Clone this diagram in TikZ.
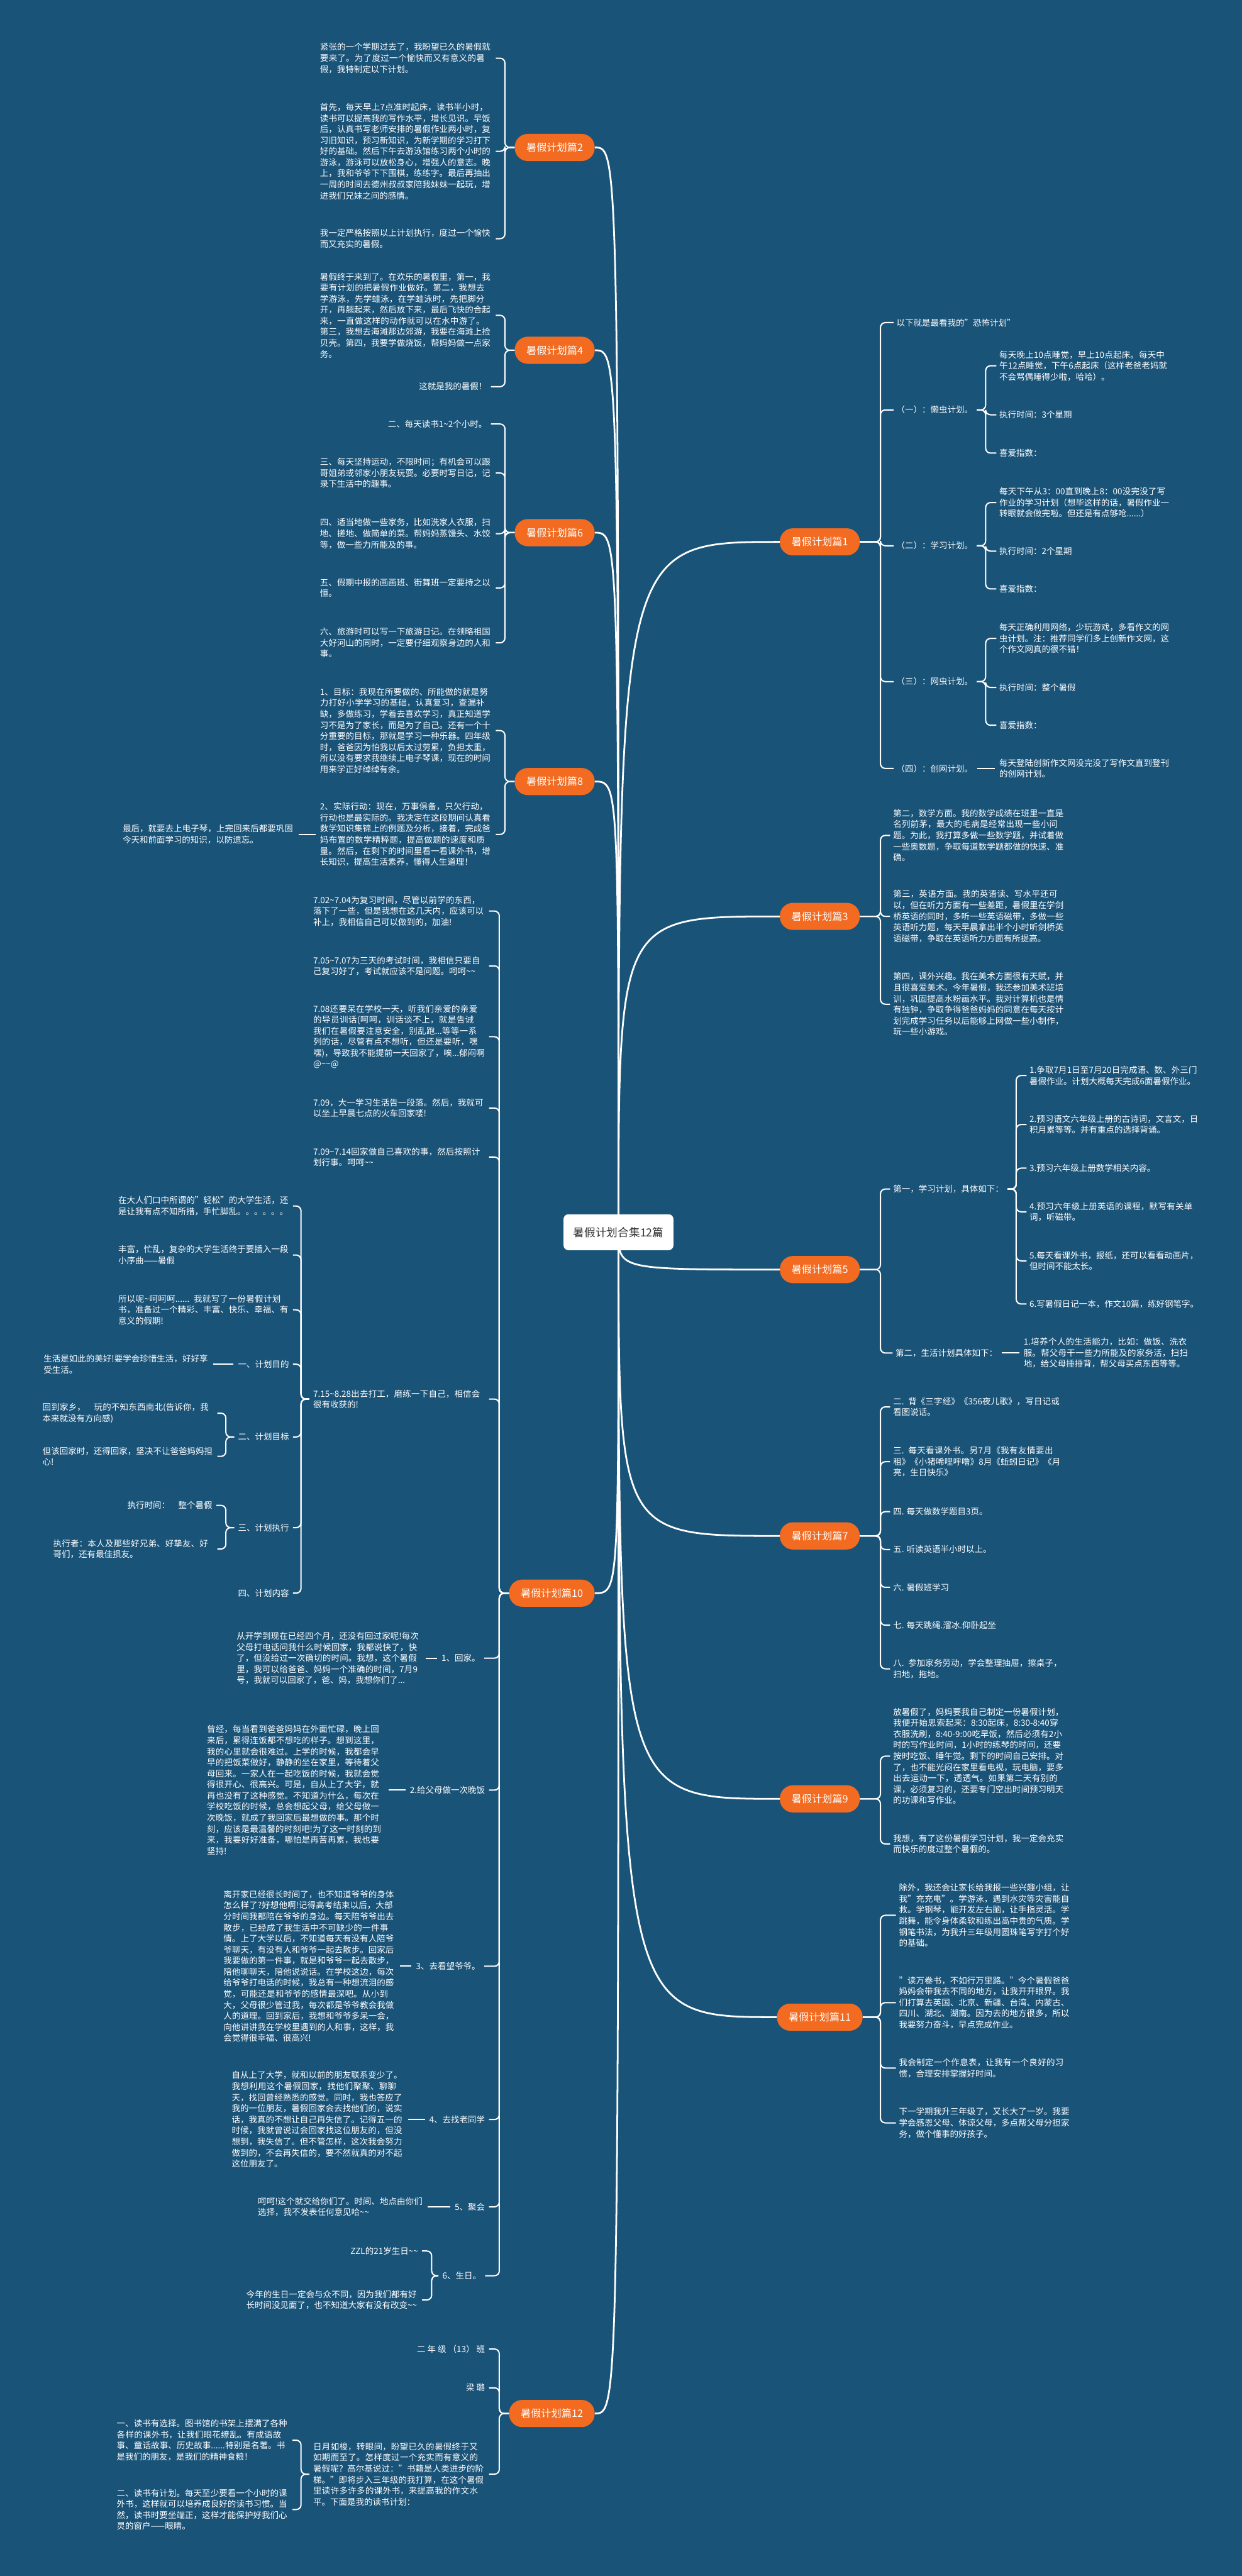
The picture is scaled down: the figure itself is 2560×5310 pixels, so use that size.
\documentclass[tikz,border=0pt]{standalone}
\usepackage{fontspec}
\setmainfont{Noto Sans CJK SC}
\XeTeXlinebreaklocale "zh"
\XeTeXlinebreakskip = 0pt plus 1pt
\usetikzlibrary{backgrounds}
\definecolor{mapbg}{HTML}{1A5378}
\definecolor{topicorange}{HTML}{F26B21}
\definecolor{rootink}{HTML}{333333}
\newcommand\wave{\textasciitilde}
\tikzset{
  leaf/.style={text=white, inner sep=0pt, align=left,
    font=\fontsize{17.5pt}{22.8pt}\selectfont},
  lt/.style={leaf, anchor=east},
  rt/.style={leaf, anchor=west},
  tw/.style={text width=#1pt},
  topic/.style={fill=topicorange, text=white, rounded corners=27pt,
    minimum height=56pt, inner xsep=24pt, inner ysep=0pt,
    font=\fontsize{21pt}{24pt}\selectfont},
  root/.style={fill=white, text=rootink, rounded corners=10pt,
    minimum height=74pt, inner xsep=20pt,
    font=\fontsize{23pt}{26pt}\selectfont},
  link/.style={draw=white, line width=2.6pt, rounded corners=10pt},
  trunk/.style={draw=white, line width=3.6pt},
  stub/.style={draw=white, line width=2.6pt, shorten <=9pt, shorten >=9pt},
}
\begin{document}
\begin{tikzpicture}[x=1pt,y=-1pt]
  \begin{scope}[on background layer]
    \fill[mapbg] (0,0) rectangle (2560,5310);
  \end{scope}
  \useasboundingbox (0,0) rectangle (2560,5310);
  \coordinate (rbus) at (1815,0);

  % root and topics
  \node[root] (ctr) at (1275,2540) {暑假计划合集12篇};
  \node[topic, anchor=east] (t2) at (1226,304) {暑假计划篇2};
  \node[topic, anchor=east] (t4) at (1226,722) {暑假计划篇4};
  \node[topic, anchor=east] (t6) at (1226,1098) {暑假计划篇6};
  \node[topic, anchor=east] (t8) at (1226,1611) {暑假计划篇8};
  \node[topic, anchor=east] (t10) at (1226,3284) {暑假计划篇10};
  \node[topic, anchor=east] (t12) at (1226,4975) {暑假计划篇12};
  \node[topic] (t1) at (1690,1117) {暑假计划篇1};
  \node[topic] (t3) at (1690,1889) {暑假计划篇3};
  \node[topic] (t5) at (1690,2617) {暑假计划篇5};
  \node[topic] (t7) at (1690,3166) {暑假计划篇7};
  \node[topic] (t9) at (1690,3708) {暑假计划篇9};
  \node[topic] (t11) at (1690,4158) {暑假计划篇11};

  % 篇2
  \node[lt, tw=354] (a1) at (1014,120) {紧张的一个学期过去了，我盼望已久的暑假就要来了。为了度过一个愉快而又有意义的暑假，我特制定以下计划。};
  \node[lt, tw=354] (a2) at (1014,312) {首先，每天早上7点准时起床，读书半小时，读书可以提高我的写作水平，增长见识。早饭后，认真书写老师安排的暑假作业两小时，复习旧知识，预习新知识，为新学期的学习打下好的基础。然后下午去游泳馆练习两个小时的游泳，游泳可以放松身心，增强人的意志。晚上，我和爷爷下下围棋，练练字。最后再抽出一周的时间去德州叔叔家陪我妹妹一起玩，增进我们兄妹之间的感情。};
  \node[lt, tw=354] (a3) at (1014,492) {我一定严格按照以上计划执行，度过一个愉快而又充实的暑假。};

  % 篇4
  \node[lt, tw=354] (b1) at (1014,650) {暑假终于来到了。在欢乐的暑假里，第一，我要有计划的把暑假作业做好。第二，我想去学游泳，先学蛙泳，在学蛙泳时，先把脚分开，再翘起来，然后放下来，最后飞快的合起来，一直做这样的动作就可以在水中游了。 第三，我想去海滩那边郊游，我要在海滩上捡贝壳。第四，我要学做烧饭，帮妈妈做一点家务。};
  \node[lt] (b2) at (1004,797) {这就是我的暑假！};

  % 篇6
  \node[lt] (c1) at (1004,874) {二、每天读书1\wave{}2个小时。};
  \node[lt, tw=354] (c2) at (1014,975) {三、每天坚持运动，不限时间；有机会可以跟哥姐弟或邻家小朋友玩耍。必要时写日记，记录下生活中的趣事。};
  \node[lt, tw=354] (c3) at (1014,1100) {四、适当地做一些家务，比如洗家人衣服，扫地、搓地、做简单的菜。帮妈妈蒸馒头、水饺等，做一些力所能及的事。};
  \node[lt, tw=354] (c4) at (1014,1212) {五、假期中报的画画班、街舞班一定要持之以恒。};
  \node[lt, tw=354] (c5) at (1014,1325) {六、旅游时可以写一下旅游日记。在领略祖国大好河山的同时，一定要仔细观察身边的人和事。};

  % 篇8
  \node[lt, tw=354] (d1) at (1014,1506) {1、目标：我现在所要做的、所能做的就是努力打好小学学习的基础，认真复习，查漏补缺，多做练习，学着去喜欢学习，真正知道学习不是为了家长，而是为了自己。还有一个十分重要的目标，那就是学习一种乐器。四年级时，爸爸因为怕我以后太过劳累，负担太重，所以没有要求我继续上电子琴课，现在的时间用来学正好绰绰有余。};
  \node[lt, tw=354] (d2) at (1014,1720) {2、实际行动：现在，万事俱备，只欠行动，行动也是最实际的。我决定在这段期间认真看数学知识集锦上的例题及分析，接着，完成爸妈布置的数学精粹题，提高做题的速度和质量。然后，在剩下的时间里看一看课外书，增长知识，提高生活素养，懂得人生道理！};
  \node[lt, tw=354] (d3) at (607,1720) {最后，就要去上电子琴，上完回来后都要巩固今天和前面学习的知识，以防遗忘。};

  % 篇10
  \node[lt, tw=354] (e1) at (1000,1878) {7.02\wave{}7.04为复习时间，尽管以前学的东西，落下了一些，但是我想在这几天内，应该可以补上，我相信自己可以做到的，加油!};
  \node[lt, tw=354] (e2) at (1000,1991) {7.05\wave{}7.07为三天的考试时间，我相信只要自己复习好了，考试就应该不是问题。呵呵\wave\wave};
  \node[lt, tw=354] (e3) at (1000,2137) {7.08还要呆在学校一天，听我们亲爱的亲爱的导员训话(呵呵，训话谈不上，就是告诫我们在暑假要注意安全，别乱跑...等等一系列的话，尽管有点不想听，但还是要听，嘿嘿)，导致我不能提前一天回家了，唉...郁闷啊@\wave\wave@};
  \node[lt, tw=354] (e4) at (1000,2284) {7.09，大一学习生活告一段落。然后，我就可以坐上早晨七点的火车回家喽!};
  \node[lt, tw=354] (e5) at (1000,2385) {7.09\wave{}7.14回家做自己喜欢的事，然后按照计划行事。呵呵\wave\wave};
  \node[lt, tw=354] (e6) at (1000,2884) {7.15\wave{}8.28出去打工，磨练一下自己，相信会很有收获的!};
  \node[lt, tw=352] (f1) at (596,2486) {在大人们口中所谓的"轻松"的大学生活，还是让我有点不知所措，手忙脚乱。。。。。。};
  \node[lt, tw=352] (f2) at (596,2587) {丰富，忙乱，复杂的大学生活终于要插入一段小序曲——暑假};
  \node[lt, tw=352] (f3) at (596,2700) {所以呢\wave{}呵呵呵...... 我就写了一份暑假计划书，准备过一个精彩、丰富、快乐、幸福、有意义的假期!};
  \node[lt] (f4) at (596,2812) {一、计划目的};
  \node[lt] (f5) at (596,2962) {二、计划目标};
  \node[lt] (f6) at (596,3149) {三、计划执行};
  \node[lt] (f7) at (596,3284) {四、计划内容};
  \node[lt, tw=340] (g1) at (430,2812) {生活是如此的美好!要学会珍惜生活，好好享受生活。};
  \node[lt, tw=352] (g2) at (440,2913) {回到家乡，　玩的不知东西南北(告诉你，我本来就没有方向感)};
  \node[lt, tw=352] (g3) at (440,3002) {但该回家时，还得回家，坚决不让爸爸妈妈担心!};
  \node[lt] (g4) at (438,3103) {执行时间：　整个暑假};
  \node[lt, tw=330] (g5) at (440,3193) {执行者：本人及那些好兄弟、好挚友、好哥们，还有最佳损友。};
  \node[lt] (e7) at (990,3418) {1、回家。};
  \node[lt, tw=380] (h1) at (868,3418) {从开学到现在已经四个月，还没有回过家呢!每次父母打电话问我什么时候回家，我都说快了，快了，但没给过一次确切的时间。我想，这个暑假里，我可以给爸爸、妈妈一个准确的时间，7月9号，我就可以回家了，爸、妈，我想你们了...};
  \node[lt] (e8) at (1000,3690) {2.给父母做一次晚饭};
  \node[lt, tw=365] (h2) at (792,3690) {曾经，每当看到爸爸妈妈在外面忙碌，晚上回来后，累得连饭都不想吃的样子。想到这里，我的心里就会很难过。上学的时候，我都会早早的把饭菜做好，静静的坐在家里，等待着父母回来。一家人在一起吃饭的时候，我就会觉得很开心、很高兴。可是，自从上了大学，就再也没有了这种感觉。不知道为什么，每次在学校吃饭的时候，总会想起父母，给父母做一次晚饭，就成了我回家后最想做的事。那个时刻，应该是最温馨的时刻吧!为了这一时刻的到来，我要好好准备，哪怕是再苦再累，我也要坚持!};
  \node[lt] (e9) at (990,4053) {3、去看望爷爷。};
  \node[lt, tw=354] (h3) at (815,4053) {离开家已经很长时间了，也不知道爷爷的身体怎么样了?好想他啊!记得高考结束以后，大部分时间我都陪在爷爷的身边。每天陪爷爷出去散步，已经成了我生活中不可缺少的一件事情。上了大学以后，不知道每天有没有人陪爷爷聊天，有没有人和爷爷一起去散步。回家后我要做的第一件事，就是和爷爷一起去散步，陪他聊聊天，陪他说说话。在学校这边，每次给爷爷打电话的时候，我总有一种想流泪的感觉，可能还是和爷爷的感情最深吧。从小到大，父母很少管过我，每次都是爷爷教会我做人的道理。回到家后，我想和爷爷多呆一会，向他讲讲我在学校里遇到的人和事，这样，我会觉得很幸福、很高兴!};
  \node[lt] (e10) at (1000,4369) {4、去找老同学};
  \node[lt, tw=354] (h4) at (832,4369) {自从上了大学，就和以前的朋友联系变少了。我想利用这个暑假回家，找他们聚聚、聊聊天，找回曾经熟悉的感觉。同时，我也答应了我的一位朋友，暑假回家会去找他们的，说实话，我真的不想让自己再失信了。记得五一的时候，我就曾说过会回家找这位朋友的，但没想到，我失信了。但不管怎样，这次我会努力做到的，不会再失信的，要不然就真的对不起这位朋友了。};
  \node[lt] (e11) at (1000,4549) {5、聚会};
  \node[lt, tw=341] (h5) at (873,4549) {呵呵!这个就交给你们了。时间、地点由你们选择，我不发表任何意见哈\wave\wave};
  \node[lt] (e12) at (992,4691) {6、生日。};
  \node[lt] (h6) at (862,4640) {ZZL的21岁生日\wave\wave};
  \node[lt, tw=354] (h7) at (862,4741) {今年的生日一定会与众不同，因为我们都有好长时间没见面了，也不知道大家有没有改变\wave\wave};

  % 篇12
  \node[lt] (i1) at (1000,4842) {二 年 级 （13） 班};
  \node[lt] (i2) at (1000,4922) {梁 璐};
  \node[lt, tw=354] (i3) at (1000,5100) {日月如梭，转眼间，盼望已久的暑假终于又如期而至了。怎样度过一个充实而有意义的暑假呢？高尔基说过："书籍是人类进步的阶梯。"即将步入三年级的我打算，在这个暑假里读许多许多的课外书，来提高我的作文水平。下面是我的读书计划：};
  \node[lt, tw=354] (j1) at (595,5030) {一、读书有选择。图书馆的书架上摆满了各种各样的课外书，让我们眼花缭乱。有成语故事、童话故事、历史故事......特别是名著。书是我们的朋友，是我们的精神食粮！};
  \node[lt, tw=354] (j2) at (595,5173) {二、读书有计划。每天至少要看一个小时的课外书，这样就可以培养成良好的读书习惯。当然，读书时要坐端正，这样才能保护好我们心灵的窗户——眼睛。};

  % 篇1
  \node[rt] (k0) at (1848,665) {以下就是最看我的"恐怖计划"};
  \node[rt] (k1) at (1848,845) {（一）：懒虫计划。};
  \node[rt] (k2) at (1848,1125) {（二）：学习计划。};
  \node[rt] (k3) at (1848,1405) {（三）：网虫计划。};
  \node[rt] (k4) at (1848,1584) {（四）：创网计划。};
  \node[rt, tw=350] (k1a) at (2060,754) {每天晚上10点睡觉，早上10点起床。每天中午12点睡觉，下午6点起床（这样老爸老妈就不会骂偶睡得少啦，哈哈）。};
  \node[rt] (k1b) at (2060,855) {执行时间：3个星期};
  \node[rt] (k1c) at (2060,934) {喜爱指数：};
  \node[rt, tw=350] (k2a) at (2060,1036) {每天下午从3：00直到晚上8：00没完没了写作业的学习计划（想毕这样的话，暑假作业一转眼就会做完啦。但还是有点够呛......）};
  \node[rt] (k2b) at (2060,1136) {执行时间：2个星期};
  \node[rt] (k2c) at (2060,1214) {喜爱指数：};
  \node[rt, tw=350] (k3a) at (2060,1316) {每天正确利用网络，少玩游戏，多看作文的网虫计划。注：推荐同学们多上创新作文网，这个作文网真的很不错！};
  \node[rt] (k3b) at (2060,1417) {执行时间：整个暑假};
  \node[rt] (k3c) at (2060,1495) {喜爱指数：};
  \node[rt, tw=350] (k4a) at (2060,1584) {每天登陆创新作文网没完没了写作文直到登刊的创网计划。};

  % 篇3
  \node[rt, tw=354] (l1) at (1841,1722) {第二，数学方面。我的数学成绩在班里一直是名列前茅，最大的毛病是经常出现一些小问题。为此，我打算多做一些数学题，并试着做一些奥数题，争取每道数学题都做的快速、准确。};
  \node[rt, tw=354] (l2) at (1841,1889) {第三，英语方面。我的英语读、写水平还可以，但在听力方面有一些差距，暑假里在学剑桥英语的同时，多听一些英语磁带，多做一些英语听力题，每天早晨拿出半个小时听剑桥英语磁带，争取在英语听力方面有所提高。};
  \node[rt, tw=354] (l3) at (1841,2070) {第四，课外兴趣。我在美术方面很有天赋，并且很喜爱美术。今年暑假，我还参加美术班培训，巩固提高水粉画水平。我对计算机也是情有独钟，争取争得爸爸妈妈的同意在每天按计划完成学习任务以后能够上网做一些小制作，玩一些小游戏。};

  % 篇5
  \node[rt] (m1) at (1841,2451) {第一，学习计划，具体如下：};
  \node[rt, tw=350] (m1a) at (2122,2217) {1.争取7月1日至7月20日完成语、数、外三门暑假作业。计划大概每天完成6面暑假作业。};
  \node[rt, tw=350] (m1b) at (2122,2318) {2.预习语文六年级上册的古诗词，文言文，日积月累等等。并有重点的选择背诵。};
  \node[rt, tw=350] (m1c) at (2122,2408) {3.预习六年级上册数学相关内容。};
  \node[rt, tw=350] (m1d) at (2122,2498) {4.预习六年级上册英语的课程，默写有关单词，听磁带。};
  \node[rt, tw=350] (m1e) at (2122,2599) {5.每天看课外书，报纸，还可以看看动画片，但时间不能太长。};
  \node[rt, tw=350] (m1f) at (2122,2688) {6.写暑假日记一本，作文10篇，练好钢笔字。};
  \node[rt] (m2) at (1846,2789) {第二，生活计划具体如下：};
  \node[rt, tw=352] (m2a) at (2110,2789) {1.培养个人的生活能力，比如：做饭、洗衣服。帮父母干一些力所能及的家务活，扫扫地，给父母捶捶背，帮父母买点东西等等。};

  % 篇7
  \node[rt, tw=352] (n1) at (1841,2900) {二. 背《三字经》《356夜儿歌》，写日记或看图说话。};
  \node[rt, tw=352] (n2) at (1841,3013) {三. 每天看课外书。另7月《我有友情要出租》《小猪唏哩呼噜》8月《蚯蚓日记》《月亮，生日快乐》};
  \node[rt] (n3) at (1841,3116) {四. 每天做数学题目3页。};
  \node[rt] (n4) at (1841,3194) {五. 听读英语半小时以上。};
  \node[rt] (n5) at (1841,3272) {六. 暑假班学习};
  \node[rt] (n6) at (1841,3350) {七. 每天跳绳.溜冰.仰卧起坐};
  \node[rt, tw=352] (n7) at (1841,3440) {八. 参加家务劳动，学会整理抽屉，擦桌子，扫地，拖地。};

  % 篇9
  \node[rt, tw=354] (o1) at (1841,3620) {放暑假了，妈妈要我自己制定一份暑假计划，我便开始思索起来：8:30起床，8:30-8:40穿衣服洗刷，8:40-9:00吃早饭，然后必须有2小时的写作业时间，1小时的练琴的时间，还要按时吃饭、睡午觉。剩下的时间自己安排。对了，也不能光闷在家里看电视，玩电脑，要多出去运动一下，透透气。如果第二天有别的课，必须复习的，还要专门空出时间预习明天的功课和写作业。};
  \node[rt, tw=354] (o2) at (1841,3801) {我想，有了这份暑假学习计划，我一定会充实而快乐的度过整个暑假的。};

  % 篇11
  \node[rt, tw=354] (p1) at (1853,3948) {除外，我还会让家长给我报一些兴趣小组，让我"充充电"。学游泳，遇到水灾等灾害能自救。学钢琴，能开发左右脑，让手指灵活。学跳舞，能令身体柔软和练出高中贵的气质。学钢笔书法，为我升三年级用圆珠笔写字打个好的基础。};
  \node[rt, tw=354] (p2) at (1853,4128) {"读万卷书，不如行万里路。"今个暑假爸爸妈妈会带我去不同的地方，让我开开眼界。我们打算去英国、北京、新疆、台湾、内蒙古、四川、湖北、湖南。因为去的地方很多，所以我要努力奋斗，早点完成作业。};
  \node[rt, tw=354] (p3) at (1853,4263) {我会制定一个作息表，让我有一个良好的习惯，合理安排掌握好时间。};
  \node[rt, tw=354] (p4) at (1853,4376) {下一学期我升三年级了，又长大了一岁。我要学会感恩父母、体谅父母，多点帮父母分担家务，做个懂事的好孩子。};

  % connectors
  \begin{scope}[on background layer]
    \foreach \tp in {t2,t4,t6,t8,t10,t12}
      \draw[trunk] (ctr.center) .. controls (ctr.center |- \tp.east) .. (\tp.east);
    \foreach \tp in {t1,t3,t5,t7,t9,t11}
      \draw[trunk] (ctr.center) .. controls (ctr.center |- \tp.west) .. (\tp.west);

    \foreach \lf in {a1,a2,a3}
      \draw[link] (t2.west) -- ++(-20,0) |- ([xshift=8]\lf.east);
    \foreach \lf in {b1,b2}
      \draw[link] (t4.west) -- ++(-20,0) |- ([xshift=8]\lf.east);
    \foreach \lf in {c1,c2,c3,c4,c5}
      \draw[link] (t6.west) -- ++(-20,0) |- ([xshift=8]\lf.east);
    \foreach \lf in {d1,d2}
      \draw[link] (t8.west) -- ++(-20,0) |- ([xshift=8]\lf.east);
    \foreach \lf in {e1,e2,e3,e4,e5,e6,e7,e8,e9,e10,e11,e12}
      \draw[link] (t10.west) -- ++(-20,0) |- ([xshift=8]\lf.east);
    \foreach \lf in {i1,i2,i3}
      \draw[link] (t12.west) -- ++(-20,0) |- ([xshift=8]\lf.east);

    \foreach \lf in {f1,f2,f3,f4,f5,f6,f7}
      \draw[link] ([xshift=-8]e6.west) -- ++(-17,0) |- ([xshift=8]\lf.east);
    \foreach \lf in {g2,g3}
      \draw[link] ([xshift=-8]f5.west) -- ++(-17,0) |- ([xshift=8]\lf.east);
    \foreach \lf in {g4,g5}
      \draw[link] ([xshift=-8]f6.west) -- ++(-17,0) |- ([xshift=8]\lf.east);
    \foreach \lf in {h6,h7}
      \draw[link] ([xshift=-8]e12.west) -- ++(-14,0) |- ([xshift=8]\lf.east);
    \foreach \lf in {j1,j2}
      \draw[link] ([xshift=-8]i3.west) -- ++(-17,0) |- ([xshift=8]\lf.east);

    \draw[stub] (d2.west) -- (d2.west -| d3.east);
    \draw[stub] (f4.west) -- (f4.west -| g1.east);
    \draw[stub] (e7.west) -- (e7.west -| h1.east);
    \draw[stub] (e8.west) -- (e8.west -| h2.east);
    \draw[stub] (e9.west) -- (e9.west -| h3.east);
    \draw[stub] (e10.west) -- (e10.west -| h4.east);
    \draw[stub] (e11.west) -- (e11.west -| h5.east);

    \foreach \lf in {k0,k1,k2,k3,k4}
      \draw[link] (t1.east) -- (t1.east -| rbus) |- ([xshift=-6]\lf.west);
    \foreach \lf in {l1,l2,l3}
      \draw[link] (t3.east) -- (t3.east -| rbus) |- ([xshift=-6]\lf.west);
    \foreach \lf in {m1,m2}
      \draw[link] (t5.east) -- (t5.east -| rbus) |- ([xshift=-6]\lf.west);
    \foreach \lf in {n1,n2,n3,n4,n5,n6,n7}
      \draw[link] (t7.east) -- (t7.east -| rbus) |- ([xshift=-6]\lf.west);
    \foreach \lf in {o1,o2}
      \draw[link] (t9.east) -- (t9.east -| rbus) |- ([xshift=-6]\lf.west);
    \foreach \lf in {p1,p2,p3,p4}
      \draw[link] (t11.east) -- (t11.east -| rbus) |- ([xshift=-6]\lf.west);

    \foreach \lf in {k1a,k1b,k1c}
      \draw[link] ([xshift=8]k1.east) -- ++(18,0) |- ([xshift=-6]\lf.west);
    \foreach \lf in {k2a,k2b,k2c}
      \draw[link] ([xshift=8]k2.east) -- ++(18,0) |- ([xshift=-6]\lf.west);
    \foreach \lf in {k3a,k3b,k3c}
      \draw[link] ([xshift=8]k3.east) -- ++(18,0) |- ([xshift=-6]\lf.west);
    \foreach \lf in {m1a,m1b,m1c,m1d,m1e,m1f}
      \draw[link] ([xshift=8]m1.east) -- ++(18,0) |- ([xshift=-6]\lf.west);
    \draw[stub] (k4.east) -- (k4.east -| k4a.west);
    \draw[stub] (m2.east) -- (m2.east -| m2a.west);
  \end{scope}
\end{tikzpicture}
\end{document}
